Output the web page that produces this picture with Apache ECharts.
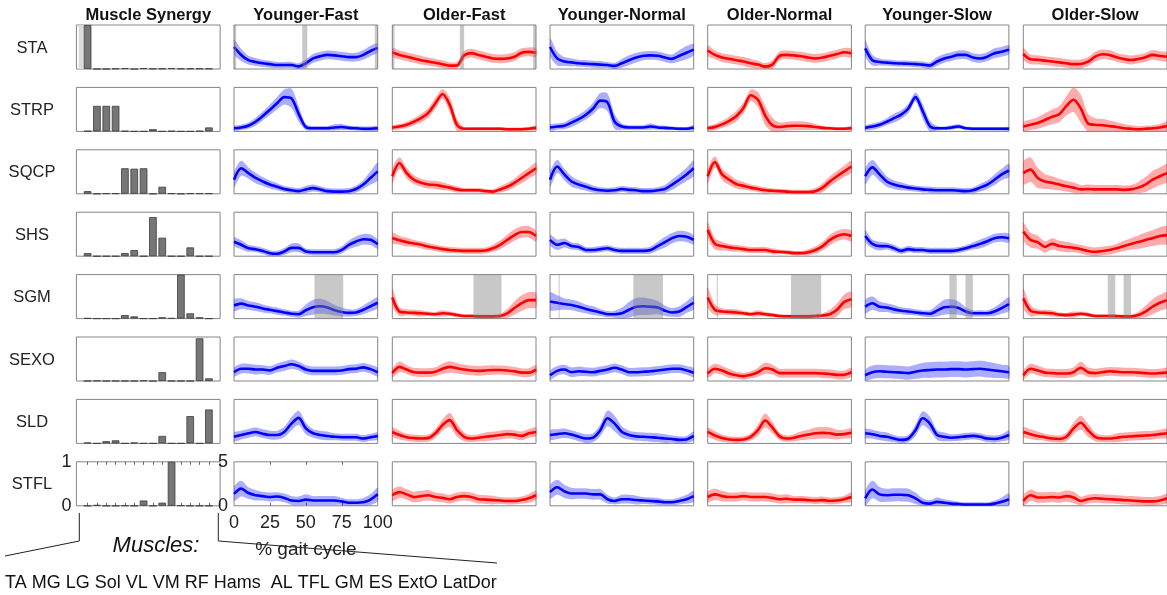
<!DOCTYPE html>
<html><head><meta charset="utf-8">
<script src="https://cdn.jsdelivr.net/npm/echarts@6/dist/echarts.min.js"></script>
<style>html,body{margin:0;padding:0;background:#fff}#c{width:1167px;height:595px}</style>
</head><body><div id="c"></div><script>
// ---------------- DATA ----------------
const gait = [0,5,10,15,20,25,30,35,40,45,50,55,60,65,70,75,80,85,90,95,100];
const conditions = ['Younger-Fast','Older-Fast','Younger-Normal','Older-Normal','Younger-Slow','Older-Slow'];
const groupOf = ['Y','O','Y','O','Y','O'];
const synergies = ['STA','STRP','SQCP','SHS','SGM','SEXO','SLD','STFL'];
const muscles = ['TA','MG','LG','Sol','VL','VM','RF','Hams','AL','TFL','GM','ES','ExtO','LatDor'];
const curveXTicks = [0,25,50,75,100];
const curveYTicks = [0,5];
const barYTicks = [0,1];

// synergy weights (14 muscles each)
const W_STA  = [1.0,0,0,0.01,0.02,0,0.02,0.01,0.01,0.02,0.01,0.01,0.01,0.01];
const W_STRP = [0.01,0.58,0.58,0.58,0.01,0,0,0.05,0,0.01,0,0,0.01,0.09];
const W_SQCP = [0.06,0,0.01,0.01,0.58,0.57,0.58,0,0.16,0.01,0,0.01,0.01,0.01];
const W_SHS  = [0.07,0,0,0,0.07,0.14,0,0.89,0.42,0,0,0.2,0,0];
const W_SGM  = [0.01,0,0,0,0.08,0.05,0,0,0.03,0.01,1.0,0.12,0.03,0];
const W_SEXO = [0,0.005,0,0,0,0,0.01,0,0.2,0,0,0,0.97,0.06];
const W_SLD  = [0.02,0,0.05,0.07,0,0.02,0,0,0.17,0,0,0.62,0,0.77];
const W_STFL = [0,0.02,0,0,0.005,0,0.12,0,0.07,1.0,0.01,0,0,0];
// faint shaded strip beside the TA bar in the STA weights panel (muscle-position units)
const STA_weightShade = [[0.05,0.59]];

// mean activation curves, one array per condition (YF, OF, YN, ON, YS, OS)
const STA_mean = [
 [2.5,1.6,1.0,0.8,0.65,0.55,0.45,0.45,0.45,0.3,0.65,1.2,1.45,1.6,1.55,1.45,1.35,1.35,1.6,2.05,2.4],
 [1.9,1.6,1.4,1.2,1.0,0.85,0.7,0.55,0.38,0.4,1.55,1.8,1.6,1.4,1.2,1.15,1.2,1.4,1.85,1.95,1.85],
 [2.5,1.2,0.85,0.75,0.65,0.6,0.55,0.5,0.45,0.35,0.65,1.0,1.3,1.5,1.55,1.5,1.3,1.15,1.5,1.85,2.2],
 [2.1,1.6,1.3,1.15,1.0,0.85,0.65,0.5,0.27,0.5,1.5,1.6,1.55,1.45,1.3,1.2,1.3,1.5,1.7,1.9,1.8],
 [2.35,1.0,0.8,0.72,0.65,0.62,0.6,0.55,0.5,0.4,0.85,1.2,1.4,1.6,1.6,1.3,1.2,1.4,1.8,1.95,2.2],
 [1.7,1.1,1.05,0.95,0.85,0.75,0.65,0.55,0.57,0.83,1.4,1.67,1.6,1.33,1.14,1.02,1.14,1.33,1.6,1.48,1.4]];
const STA_sd = [
 [0.8,0.7,0.5,0.45,0.4,0.4,0.35,0.35,0.35,0.35,0.45,0.5,0.5,0.5,0.5,0.5,0.5,0.5,0.55,0.6,0.5],
 [0.5,0.5,0.5,0.5,0.5,0.45,0.45,0.45,0.4,0.4,0.5,0.5,0.5,0.5,0.5,0.5,0.5,0.5,0.5,0.5,0.5],
 [1.0,0.8,0.5,0.45,0.4,0.4,0.4,0.4,0.35,0.35,0.5,0.55,0.55,0.5,0.5,0.5,0.5,0.5,0.65,0.75,0.65],
 [0.6,0.5,0.5,0.5,0.5,0.5,0.5,0.45,0.4,0.5,0.5,0.5,0.5,0.5,0.5,0.5,0.5,0.5,0.5,0.5,0.5],
 [0.9,0.6,0.4,0.35,0.35,0.35,0.35,0.35,0.35,0.35,0.5,0.5,0.5,0.5,0.5,0.5,0.5,0.5,0.55,0.55,0.5],
 [0.65,0.55,0.5,0.5,0.5,0.5,0.5,0.5,0.5,0.5,0.55,0.55,0.55,0.5,0.5,0.5,0.5,0.5,0.55,0.55,0.5]];

const STRP_mean = [
 [0.35,0.45,0.65,1.1,1.75,2.45,3.2,3.9,3.75,2.0,0.5,0.35,0.35,0.35,0.45,0.5,0.4,0.35,0.3,0.3,0.35],
 [0.45,0.55,0.75,1.1,1.5,2.1,3.2,4.25,3.0,0.75,0.3,0.3,0.3,0.3,0.3,0.3,0.25,0.25,0.25,0.3,0.4],
 [0.45,0.55,0.65,1.0,1.4,1.9,2.6,3.5,3.3,1.1,0.55,0.45,0.45,0.45,0.55,0.45,0.4,0.35,0.3,0.3,0.45],
 [0.35,0.5,0.8,1.2,1.75,2.7,4.1,3.6,1.8,0.7,0.5,0.6,0.65,0.65,0.6,0.5,0.4,0.35,0.3,0.3,0.35],
 [0.4,0.55,0.75,1.1,1.5,1.9,2.6,3.9,2.3,0.6,0.35,0.35,0.45,0.55,0.35,0.3,0.3,0.3,0.3,0.3,0.3],
 [0.55,0.75,0.95,1.3,1.65,1.95,2.9,3.6,2.6,0.9,0.75,0.7,0.6,0.5,0.35,0.3,0.25,0.3,0.35,0.45,0.6]];
const STRP_sd = [
 [0.25,0.3,0.35,0.45,0.5,0.6,0.7,0.85,1.1,0.9,0.35,0.25,0.25,0.25,0.35,0.35,0.25,0.25,0.25,0.25,0.25],
 [0.25,0.3,0.35,0.4,0.5,0.55,0.65,0.55,0.85,0.7,0.2,0.2,0.2,0.2,0.2,0.2,0.2,0.2,0.2,0.2,0.25],
 [0.35,0.35,0.4,0.5,0.5,0.55,0.65,0.85,1.0,0.85,0.35,0.25,0.25,0.25,0.35,0.25,0.25,0.2,0.2,0.2,0.25],
 [0.25,0.35,0.4,0.5,0.6,0.65,0.65,0.85,1.1,0.85,0.5,0.5,0.5,0.5,0.45,0.35,0.25,0.2,0.2,0.2,0.2],
 [0.25,0.35,0.35,0.4,0.5,0.5,0.55,0.5,0.85,0.6,0.25,0.2,0.25,0.25,0.2,0.2,0.2,0.2,0.2,0.2,0.2],
 [0.5,0.6,0.65,0.75,0.85,0.9,1.1,1.4,1.6,1.1,0.75,0.7,0.65,0.55,0.5,0.4,0.35,0.35,0.35,0.4,0.5]];

const SQCP_mean = [
 [1.6,2.9,2.35,1.8,1.4,1.05,0.8,0.55,0.4,0.3,0.5,0.65,0.5,0.3,0.25,0.25,0.3,0.55,1.05,1.8,2.55],
 [2.0,3.5,2.35,1.6,1.25,1.05,1.0,0.85,0.7,0.5,0.4,0.4,0.4,0.3,0.25,0.5,0.8,1.25,1.8,2.35,2.9],
 [1.6,3.1,2.2,1.4,1.05,0.8,0.55,0.4,0.35,0.4,0.55,0.45,0.4,0.3,0.3,0.4,0.55,1.05,1.6,2.2,2.9],
 [2.0,3.6,2.2,1.6,1.1,0.9,0.7,0.55,0.4,0.35,0.3,0.25,0.2,0.2,0.2,0.3,0.7,1.4,2.0,2.55,3.1],
 [2.0,3.0,2.2,1.4,1.05,0.85,0.7,0.6,0.5,0.45,0.4,0.4,0.4,0.35,0.3,0.4,0.7,1.05,1.6,2.2,2.65],
 [2.35,2.75,1.8,1.4,1.25,1.05,0.85,0.7,0.5,0.55,0.5,0.5,0.5,0.5,0.45,0.5,0.7,1.05,1.6,2.0,2.35]];
const SQCP_sd = [
 [0.85,0.85,0.65,0.6,0.5,0.45,0.4,0.35,0.35,0.35,0.4,0.4,0.35,0.35,0.35,0.35,0.35,0.4,0.5,0.75,1.0],
 [0.85,0.65,0.6,0.5,0.45,0.45,0.45,0.45,0.35,0.35,0.25,0.25,0.25,0.25,0.25,0.35,0.45,0.5,0.6,0.6,0.65],
 [0.85,0.75,0.65,0.6,0.5,0.45,0.4,0.35,0.35,0.35,0.35,0.35,0.35,0.35,0.35,0.35,0.45,0.6,0.65,0.75,0.85],
 [0.85,0.65,0.65,0.6,0.5,0.45,0.35,0.35,0.35,0.25,0.25,0.25,0.25,0.25,0.25,0.35,0.5,0.6,0.6,0.65,0.65],
 [0.9,0.85,0.75,0.6,0.5,0.45,0.35,0.35,0.35,0.35,0.35,0.35,0.35,0.35,0.35,0.35,0.45,0.5,0.6,0.65,0.75],
 [1.3,1.4,1.15,0.85,0.75,0.65,0.6,0.6,0.5,0.5,0.5,0.5,0.5,0.5,0.5,0.5,0.65,0.85,1.0,1.0,1.0]];

const SHS_mean = [
 [1.65,1.3,0.9,0.8,0.6,0.34,0.27,0.53,0.95,0.95,0.53,0.45,0.45,0.45,0.45,0.72,1.29,1.67,1.93,1.86,1.36],
 [2.07,1.8,1.6,1.45,1.3,1.1,0.95,0.8,0.7,0.65,0.6,0.6,0.6,0.65,0.9,1.3,1.85,2.4,2.75,2.75,2.3],
 [1.85,1.3,1.5,1.15,1.05,0.7,0.7,0.8,0.9,0.7,0.6,0.6,0.6,0.6,0.7,1.15,1.6,2.05,2.3,2.2,1.85],
 [3.0,1.4,1.15,1.0,0.9,0.8,0.7,0.7,0.7,0.55,0.5,0.45,0.35,0.35,0.45,0.7,1.15,1.85,2.3,2.5,2.3],
 [2.3,1.4,1.15,1.15,0.9,0.6,0.8,0.7,0.7,0.6,0.6,0.6,0.6,0.7,0.9,1.15,1.4,1.7,2.05,2.15,2.05],
 [2.8,1.85,1.6,1.05,1.4,1.15,1.05,0.95,0.8,0.6,0.5,0.6,0.7,0.9,1.15,1.4,1.6,1.85,2.05,2.3,2.4]];
const SHS_sd = [
 [0.5,0.5,0.4,0.35,0.35,0.35,0.35,0.4,0.5,0.5,0.35,0.35,0.35,0.35,0.35,0.4,0.5,0.6,0.6,0.6,0.5],
 [0.6,0.5,0.5,0.4,0.4,0.4,0.35,0.35,0.35,0.35,0.35,0.35,0.35,0.35,0.4,0.5,0.6,0.65,0.65,0.65,0.6],
 [0.6,0.6,0.5,0.4,0.4,0.35,0.35,0.35,0.35,0.35,0.35,0.35,0.35,0.35,0.4,0.5,0.6,0.6,0.6,0.6,0.5],
 [0.85,0.65,0.5,0.4,0.4,0.35,0.35,0.35,0.35,0.35,0.25,0.25,0.25,0.25,0.35,0.4,0.5,0.6,0.6,0.6,0.6],
 [0.65,0.5,0.5,0.4,0.4,0.35,0.35,0.35,0.35,0.35,0.35,0.35,0.35,0.35,0.35,0.4,0.5,0.5,0.5,0.5,0.5],
 [1.0,0.85,0.75,0.65,0.65,0.6,0.6,0.5,0.5,0.5,0.5,0.5,0.5,0.5,0.6,0.65,0.75,0.85,0.9,1.0,1.0]];

const SGM_mean = [
 [1.5,1.7,1.5,1.35,1.15,1.0,0.85,0.7,0.55,0.5,0.95,1.3,1.4,1.25,0.95,0.75,0.65,0.7,1.0,1.4,1.8],
 [2.4,0.8,0.7,0.65,0.6,0.55,0.5,0.6,0.55,0.4,0.3,0.3,0.25,0.25,0.25,0.3,0.6,1.2,1.75,2.1,2.1],
 [1.95,1.8,1.65,1.55,1.35,1.1,0.9,0.7,0.5,0.5,0.6,1.0,1.35,1.4,1.35,1.25,0.9,0.7,0.8,1.3,1.8],
 [2.4,1.0,0.8,0.75,0.7,0.6,0.5,0.6,0.5,0.4,0.3,0.27,0.25,0.25,0.25,0.3,0.35,0.5,1.0,1.9,2.2],
 [1.35,1.75,1.35,1.25,1.05,0.9,0.8,0.7,0.6,0.55,0.9,1.3,1.35,1.2,0.8,0.6,0.6,0.6,0.8,1.2,1.65],
 [2.3,0.9,0.7,0.65,0.6,0.45,0.4,0.45,0.55,0.45,0.3,0.3,0.3,0.28,0.25,0.25,0.4,0.8,1.35,1.8,2.1]];
const SGM_sd = [
 [0.65,0.6,0.5,0.5,0.45,0.4,0.4,0.35,0.35,0.4,0.65,0.85,0.85,0.75,0.6,0.5,0.4,0.4,0.5,0.6,0.6],
 [1.0,0.5,0.35,0.35,0.35,0.25,0.25,0.35,0.25,0.25,0.2,0.2,0.2,0.2,0.2,0.25,0.5,0.75,0.9,0.9,0.85],
 [1.0,0.85,0.65,0.6,0.6,0.5,0.5,0.4,0.35,0.4,0.65,0.9,1.0,1.0,0.9,0.75,0.6,0.5,0.6,0.65,0.75],
 [1.1,0.6,0.35,0.35,0.35,0.25,0.25,0.35,0.25,0.25,0.2,0.2,0.2,0.2,0.2,0.2,0.25,0.5,0.75,0.85,0.85],
 [0.75,0.75,0.6,0.5,0.5,0.4,0.4,0.35,0.35,0.4,0.65,0.85,0.85,0.75,0.5,0.35,0.35,0.35,0.5,0.65,0.75],
 [1.1,0.65,0.35,0.35,0.35,0.25,0.25,0.35,0.25,0.25,0.2,0.2,0.2,0.2,0.2,0.2,0.35,0.65,0.85,0.9,0.9]];

const SEXO_mean = [
 [1.0,1.4,1.4,1.3,1.3,1.2,1.5,1.7,1.9,1.7,1.3,1.15,1.15,1.15,1.15,1.2,1.35,1.4,1.55,1.35,1.0],
 [0.9,1.6,1.3,1.0,0.95,0.95,1.05,1.4,1.6,1.45,1.3,1.2,1.15,1.2,1.25,1.25,1.2,1.1,0.95,0.95,1.3],
 [0.65,1.15,1.3,1.0,1.1,1.05,1.0,1.15,1.3,1.5,1.3,1.0,1.0,1.05,1.1,1.2,1.3,1.4,1.4,1.2,0.95],
 [0.85,1.4,1.2,0.85,0.65,0.55,0.7,1.0,1.45,1.3,0.9,0.9,0.9,0.9,0.9,0.9,0.85,0.8,0.7,0.7,1.0],
 [0.65,1.0,1.1,1.05,1.0,0.95,0.9,1.05,1.2,1.25,1.3,1.3,1.35,1.35,1.3,1.35,1.4,1.3,1.2,1.1,1.0],
 [0.65,1.4,1.2,0.95,0.9,0.85,0.85,1.0,1.5,1.0,0.9,1.0,1.1,1.05,1.0,1.0,0.95,0.9,0.85,0.9,0.95]];
const SEXO_sd = [
 [0.5,0.55,0.55,0.55,0.5,0.5,0.5,0.55,0.55,0.5,0.5,0.5,0.5,0.5,0.5,0.5,0.5,0.5,0.5,0.5,0.5],
 [0.5,0.6,0.5,0.5,0.5,0.5,0.5,0.6,0.65,0.6,0.55,0.55,0.55,0.55,0.55,0.5,0.5,0.5,0.5,0.5,0.5],
 [0.5,0.55,0.55,0.55,0.55,0.5,0.5,0.5,0.5,0.5,0.5,0.5,0.5,0.5,0.5,0.5,0.5,0.5,0.5,0.5,0.5],
 [0.5,0.55,0.5,0.5,0.4,0.4,0.4,0.5,0.65,0.55,0.5,0.5,0.5,0.5,0.5,0.5,0.5,0.5,0.5,0.5,0.5],
 [0.6,0.75,0.75,0.75,0.75,0.75,0.75,0.8,0.85,0.9,0.9,0.9,0.9,0.9,0.9,0.9,0.9,0.9,0.85,0.75,0.7],
 [0.5,0.55,0.55,0.5,0.5,0.5,0.5,0.55,0.7,0.55,0.5,0.5,0.5,0.5,0.5,0.5,0.5,0.5,0.5,0.5,0.5]];

const SLD_mean = [
 [0.75,0.95,1.15,1.3,1.1,0.95,0.95,1.3,2.25,2.9,1.7,1.15,0.95,0.85,0.75,0.7,0.7,0.7,0.55,0.7,0.85],
 [1.3,0.95,0.7,0.6,0.55,0.6,1.15,2.1,2.65,1.5,0.75,0.55,0.65,0.75,0.85,0.95,1.05,1.0,0.85,1.15,1.3],
 [0.95,1.05,1.15,1.0,0.75,0.55,0.65,1.5,2.85,2.25,1.3,0.95,0.8,0.75,0.7,0.65,0.55,0.5,0.4,0.45,0.85],
 [1.3,0.9,0.6,0.45,0.4,0.45,0.75,1.5,2.6,1.8,0.8,0.55,0.65,0.85,1.0,1.15,1.2,1.15,1.0,1.05,1.2],
 [1.15,1.05,0.85,0.75,0.55,0.4,0.55,1.5,2.85,2.25,0.95,0.75,0.65,0.7,0.8,0.85,0.75,0.55,0.5,0.65,0.95],
 [1.3,1.05,0.85,0.7,0.55,0.5,0.75,1.7,2.35,1.5,0.75,0.55,0.55,0.65,0.75,0.8,0.85,0.9,0.95,1.05,1.15]];
const SLD_sd = [
 [0.5,0.5,0.5,0.5,0.5,0.5,0.5,0.6,0.75,0.8,0.65,0.5,0.5,0.5,0.4,0.4,0.4,0.4,0.4,0.4,0.4],
 [0.5,0.5,0.4,0.4,0.4,0.4,0.5,0.65,0.8,0.75,0.5,0.4,0.4,0.5,0.5,0.5,0.5,0.5,0.5,0.5,0.5],
 [0.55,0.55,0.55,0.5,0.5,0.5,0.5,0.65,0.9,0.9,0.65,0.5,0.5,0.5,0.5,0.5,0.5,0.4,0.4,0.4,0.5],
 [0.5,0.5,0.4,0.35,0.35,0.35,0.4,0.65,0.8,0.65,0.4,0.35,0.4,0.5,0.55,0.65,0.65,0.65,0.55,0.5,0.5],
 [0.5,0.5,0.5,0.5,0.4,0.4,0.4,0.65,0.8,0.8,0.55,0.5,0.4,0.4,0.4,0.4,0.4,0.4,0.4,0.4,0.5],
 [0.55,0.55,0.5,0.4,0.4,0.4,0.5,0.65,0.8,0.75,0.5,0.4,0.4,0.5,0.5,0.5,0.5,0.5,0.5,0.5,0.5]];

const STFL_mean = [
 [1.35,1.95,1.45,1.2,1.1,1.0,1.05,0.9,0.6,0.55,0.7,0.6,0.6,0.6,0.6,0.5,0.35,0.35,0.4,0.7,1.3],
 [1.2,1.55,1.3,1.0,1.1,1.2,1.0,0.9,0.75,1.0,1.1,1.0,0.75,0.7,0.65,0.6,0.55,0.55,0.65,0.85,1.2],
 [1.55,2.1,1.65,1.4,1.4,1.4,1.3,1.3,0.75,0.55,0.75,0.75,0.65,0.6,0.55,0.5,0.4,0.4,0.55,0.75,1.1],
 [1.0,1.3,1.1,1.0,1.0,1.1,1.0,1.0,1.0,0.9,0.75,0.8,0.7,0.7,0.65,0.6,0.65,0.55,0.6,0.75,1.0],
 [0.85,1.85,1.3,1.2,1.25,1.25,1.2,0.85,0.35,0.25,0.45,0.35,0.25,0.2,0.15,0.15,0.15,0.15,0.25,0.45,0.75],
 [0.55,1.2,0.95,0.95,1.0,0.95,1.1,0.95,0.55,0.75,0.85,0.8,0.75,0.7,0.65,0.6,0.55,0.5,0.5,0.6,0.85]];
const STFL_sd = [
 [0.8,0.9,0.65,0.6,0.5,0.5,0.5,0.5,0.5,0.5,0.6,0.5,0.5,0.5,0.5,0.4,0.4,0.4,0.5,0.6,0.75],
 [0.6,0.65,0.6,0.6,0.6,0.6,0.5,0.5,0.5,0.5,0.5,0.5,0.5,0.5,0.5,0.4,0.4,0.4,0.4,0.5,0.5],
 [0.75,0.85,0.75,0.65,0.6,0.6,0.6,0.6,0.5,0.4,0.5,0.5,0.5,0.4,0.4,0.4,0.35,0.35,0.4,0.5,0.6],
 [0.6,0.65,0.6,0.5,0.5,0.5,0.5,0.5,0.5,0.5,0.5,0.5,0.4,0.4,0.4,0.4,0.4,0.4,0.4,0.4,0.5],
 [0.85,1.0,0.85,0.75,0.75,0.75,0.75,0.65,0.5,0.4,0.5,0.4,0.35,0.25,0.25,0.25,0.25,0.25,0.35,0.5,0.65],
 [0.6,0.65,0.6,0.6,0.6,0.6,0.65,0.65,0.5,0.5,0.5,0.5,0.5,0.5,0.5,0.5,0.5,0.5,0.5,0.5,0.5]];

// significant-difference intervals (% gait cycle), per condition
const STA_sig = [[[0,1.5],[47.5,51],[98,100]],[[0,1.5],[47,50],[98,100]],[],[],[],[]];
const SGM_sig = [[[56,76]],[[56.5,76]],[[6,6.7],[58,78.6]],[[6.3,7],[58,79]],[[58.6,63.7],[69.8,74.9]],[[58.8,64],[69.8,75]]];
const NO_SIG = [[],[],[],[],[],[]];

const weightsByRow = [W_STA,W_STRP,W_SQCP,W_SHS,W_SGM,W_SEXO,W_SLD,W_STFL];
const meanByRow = [STA_mean,STRP_mean,SQCP_mean,SHS_mean,SGM_mean,SEXO_mean,SLD_mean,STFL_mean];
const sdByRow = [STA_sd,STRP_sd,SQCP_sd,SHS_sd,SGM_sd,SEXO_sd,SLD_sd,STFL_sd];
const sigByRow = [STA_sig,NO_SIG,NO_SIG,NO_SIG,SGM_sig,NO_SIG,NO_SIG,NO_SIG];
const weightShadeByRow = [STA_weightShade,[],[],[],[],[],[],[]];

// ---------------- LAYOUT / STYLE ----------------
const FONT = "'Liberation Sans', Arial, Helvetica, sans-serif";
const colLeft = [76.4, 234, 392.3, 550, 707.7, 865.2, 1023.3];
const colW = 143.7;
const rowTop0 = 25, rowPitch = 62.4, rowH = 44;
const lineColor = {Y:'#0000ff', O:'#ff0000'};
const bandColor = {Y:'rgba(0,0,255,0.32)', O:'rgba(255,0,0,0.33)'};
const sigColor = 'rgba(128,128,128,0.43)';
const boxColor = '#858585';
const tickStyle = {show:true, inside:true, length:3, lineStyle:{color:'#666'}};

const grids=[], xAxes=[], yAxes=[], series=[], graphics=[], extraX=[];
let gi = 0;
function hiddenAxisBase(){return {axisLine:{show:false},splitLine:{show:false},axisTick:{show:false},axisLabel:{show:false}};}
function rectSeries(idx, data, yTop, fill, z){
  return {type:'custom', xAxisIndex:idx, yAxisIndex:idx, silent:true, clip:true, z:z,
    data: data.map(d=>[d[0], d[1]]),
    renderItem:function(p, api){
      const a = api.value(0), b = api.value(1);
      const p1 = api.coord([a, yTop]), p2 = api.coord([b, 0]);
      return {type:'rect', shape:{x:p1[0], y:p1[1], width:Math.max(1,p2[0]-p1[0]), height:p2[1]-p1[1]}, style:{fill:fill}};
    }};
}

for (let r=0;r<synergies.length;r++){
  const top = rowTop0 + r*rowPitch;
  for (let c=0;c<7;c++){
    grids.push({left:colLeft[c], top:top, width:colW, height:rowH, show:true, borderColor:boxColor, borderWidth:1, backgroundColor:'rgba(0,0,0,0)', containLabel:false});
    const last = (r===synergies.length-1);
    if (c===0){
      const xa = Object.assign(hiddenAxisBase(), {type:'value', gridIndex:gi, min:-0.2, max:15.2});
      const ya = Object.assign(hiddenAxisBase(), {type:'value', gridIndex:gi, min:0, max:1, interval:1});
      if (last){
        const tv = muscles.map((m,i)=>i+1);
        xa.axisTick = Object.assign({customValues:tv}, tickStyle);
        ya.axisLabel = {show:true, fontSize:18, color:'#222', fontFamily:FONT, margin:5, customValues:barYTicks};
        extraX.push(Object.assign(hiddenAxisBase(), {type:'value', gridIndex:gi, position:'top', min:-0.2, max:15.2, axisTick:Object.assign({customValues:tv}, tickStyle)}));
      }
      xAxes.push(xa); yAxes.push(ya);
      const w = weightsByRow[r];
      if (weightShadeByRow[r].length) series.push(rectSeries(gi, weightShadeByRow[r], 1, '#dadada', 1));
      series.push({type:'bar', xAxisIndex:gi, yAxisIndex:gi, barWidth:7.6, silent:true, z:2,
        data: muscles.map((m,i)=>[i+1, w[i]]),
        itemStyle:{color:'#767676', borderColor:'#3c3c3c', borderWidth:0.8}});
    } else {
      const k = c-1, g = groupOf[k];
      const xa = Object.assign(hiddenAxisBase(), {type:'value', gridIndex:gi, min:0, max:100, interval:25});
      const ya = Object.assign(hiddenAxisBase(), {type:'value', gridIndex:gi, min:0, max:5, interval:5});
      if (last && c===1){
        xa.axisTick = Object.assign({customValues:[25,50,75]}, tickStyle);
        xa.axisLabel = {show:true, fontSize:18, color:'#222', fontFamily:FONT, margin:8, customValues:curveXTicks, showMinLabel:true, showMaxLabel:true};
        xa.name = '% gait cycle'; xa.nameLocation='middle'; xa.nameGap = 34;
        xa.nameTextStyle = {fontSize:19, color:'#222', fontFamily:FONT};
        ya.axisLabel = {show:true, fontSize:18, color:'#222', fontFamily:FONT, margin:6, customValues:curveYTicks};
        extraX.push(Object.assign(hiddenAxisBase(), {type:'value', gridIndex:gi, position:'top', min:0, max:100, axisTick:Object.assign({customValues:[25,50,75]}, tickStyle)}));
      }
      xAxes.push(xa); yAxes.push(ya);
      const m = meanByRow[r][k], s = sdByRow[r][k];
      const up = m.map((v,i)=>v+s[i]);
      const lo = m.map((v,i)=>Math.max(0, v-s[i]));
      const idx = gi;
      series.push({type:'custom', xAxisIndex:idx, yAxisIndex:idx, silent:true, clip:true, z:2,
        data:[[0,0]],
        renderItem:function(p, api){
          const pts=[];
          for (let i=0;i<gait.length;i++) pts.push(api.coord([gait[i], up[i]]));
          for (let i=gait.length-1;i>=0;i--) pts.push(api.coord([gait[i], lo[i]]));
          return {type:'polygon', shape:{points:pts, smooth:0.3}, style:{fill:bandColor[g]}};
        }});
      series.push({type:'line', xAxisIndex:idx, yAxisIndex:idx, silent:true, clip:true, z:3,
        showSymbol:false, symbol:'none', smooth:0.3,
        data: gait.map((x,i)=>[x, m[i]]),
        lineStyle:{color:lineColor[g], width:2.6}});
      const sig = sigByRow[r][k];
      if (sig.length) series.push(rectSeries(idx, sig, 5, sigColor, 4));
    }
    gi++;
  }
  graphics.push({type:'text', x:32, y:top+rowH/2+1, style:{text:synergies[r], fontSize:16.5, fill:'#222', fontFamily:FONT, align:'center', verticalAlign:'middle'}});
}
// column titles
const titles = ['Muscle Synergy'].concat(conditions);
titles.forEach((t,c)=>{
  graphics.push({type:'text', x:colLeft[c]+colW/2, y:15, style:{text:t, fontSize:16.5, fontWeight:'bold', fill:'#111', fontFamily:FONT, align:'center', verticalAlign:'middle'}});
});
// bottom annotations
graphics.push({type:'text', x:156, y:546, style:{text:'Muscles:', fontSize:22, fontStyle:'italic', fill:'#111', fontFamily:FONT, align:'center', verticalAlign:'middle'}});
graphics.push({type:'text', x:5, y:583, style:{text:muscles.slice(0,8).join(' ')+'  '+muscles.slice(8).join(' '), fontSize:18, fill:'#111', fontFamily:FONT, align:'left', verticalAlign:'middle'}});
graphics.push({type:'polyline', shape:{points:[[79.3,513],[79.3,541],[5,556]]}, style:{stroke:'#222', lineWidth:1, fill:null}});
graphics.push({type:'polyline', shape:{points:[[218.3,513],[218.3,541],[497,563]]}, style:{stroke:'#222', lineWidth:1, fill:null}});

const chart = echarts.init(document.getElementById('c'), null, {renderer:'canvas'});
chart.setOption({
  animation:false,
  backgroundColor:'#fff',
  textStyle:{fontFamily:FONT},
  grid:grids, xAxis:xAxes.concat(extraX), yAxis:yAxes, series:series,
  graphic:{elements:graphics}
});
</script></body></html>
